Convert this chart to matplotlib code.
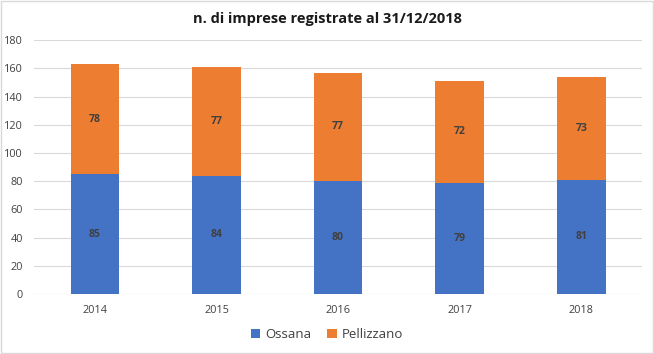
import matplotlib

matplotlib.use("Agg")
import matplotlib.pyplot as plt
from matplotlib.patches import Rectangle

years = ["2014", "2015", "2016", "2017", "2018"]
ossana = [85, 84, 80, 79, 81]
pellizzano = [78, 77, 77, 72, 73]

BLUE = "#4472C4"
ORANGE = "#ED7D31"

plt.rcParams["font.family"] = ["Open Sans", "DejaVu Sans"]

fig = plt.figure(figsize=(6.54, 3.54), dpi=100)
ax = fig.add_axes([0.052, 0.1695, 0.93, 0.717])

x = range(len(years))
b1 = ax.bar(x, ossana, width=0.4, color=BLUE, label="Ossana", zorder=3)
b2 = ax.bar(x, pellizzano, width=0.4, bottom=ossana, color=ORANGE,
            label="Pellizzano", zorder=3)
ax.bar_label(b1, label_type="center", fontsize=7.5, color="#404040",
             fontweight="bold")
ax.bar_label(b2, label_type="center", fontsize=7.5, color="#404040",
             fontweight="bold")

ax.set_ylim(0, 180)
ax.set_yticks(range(0, 181, 20))
ax.set_xlim(-0.5, len(years) - 0.5)
ax.set_xticks(list(x))
ax.set_xticklabels(years)
ax.tick_params(axis="both", length=0, labelsize=7.8, labelcolor="#404040")
ax.tick_params(axis="x", pad=8)
ax.tick_params(axis="y", pad=8)
ax.grid(axis="y", color="#D9D9D9", lw=0.8, zorder=0)
for s in ax.spines.values():
    s.set_visible(False)
ax.axhline(0, color="#D9D9D9", lw=0.8, zorder=1)

fig.text(0.5, 0.945, "n. di imprese registrate al 31/12/2018", ha="center",
         va="center", fontsize=10.5, fontweight="bold", color="#1a1a1a")

fig.legend(loc="center", bbox_to_anchor=(0.5, 0.055), ncol=2, frameon=False,
           fontsize=9.5, handlelength=0.7, handleheight=0.7, columnspacing=1.2,
           handletextpad=0.4, labelcolor="#404040")

fig.patches.append(Rectangle((0.002, 0.003), 0.996, 0.994, transform=fig.transFigure,
                             fill=False, edgecolor="#D9D9D9", lw=1))

fig.savefig("out.png", dpi=100)
